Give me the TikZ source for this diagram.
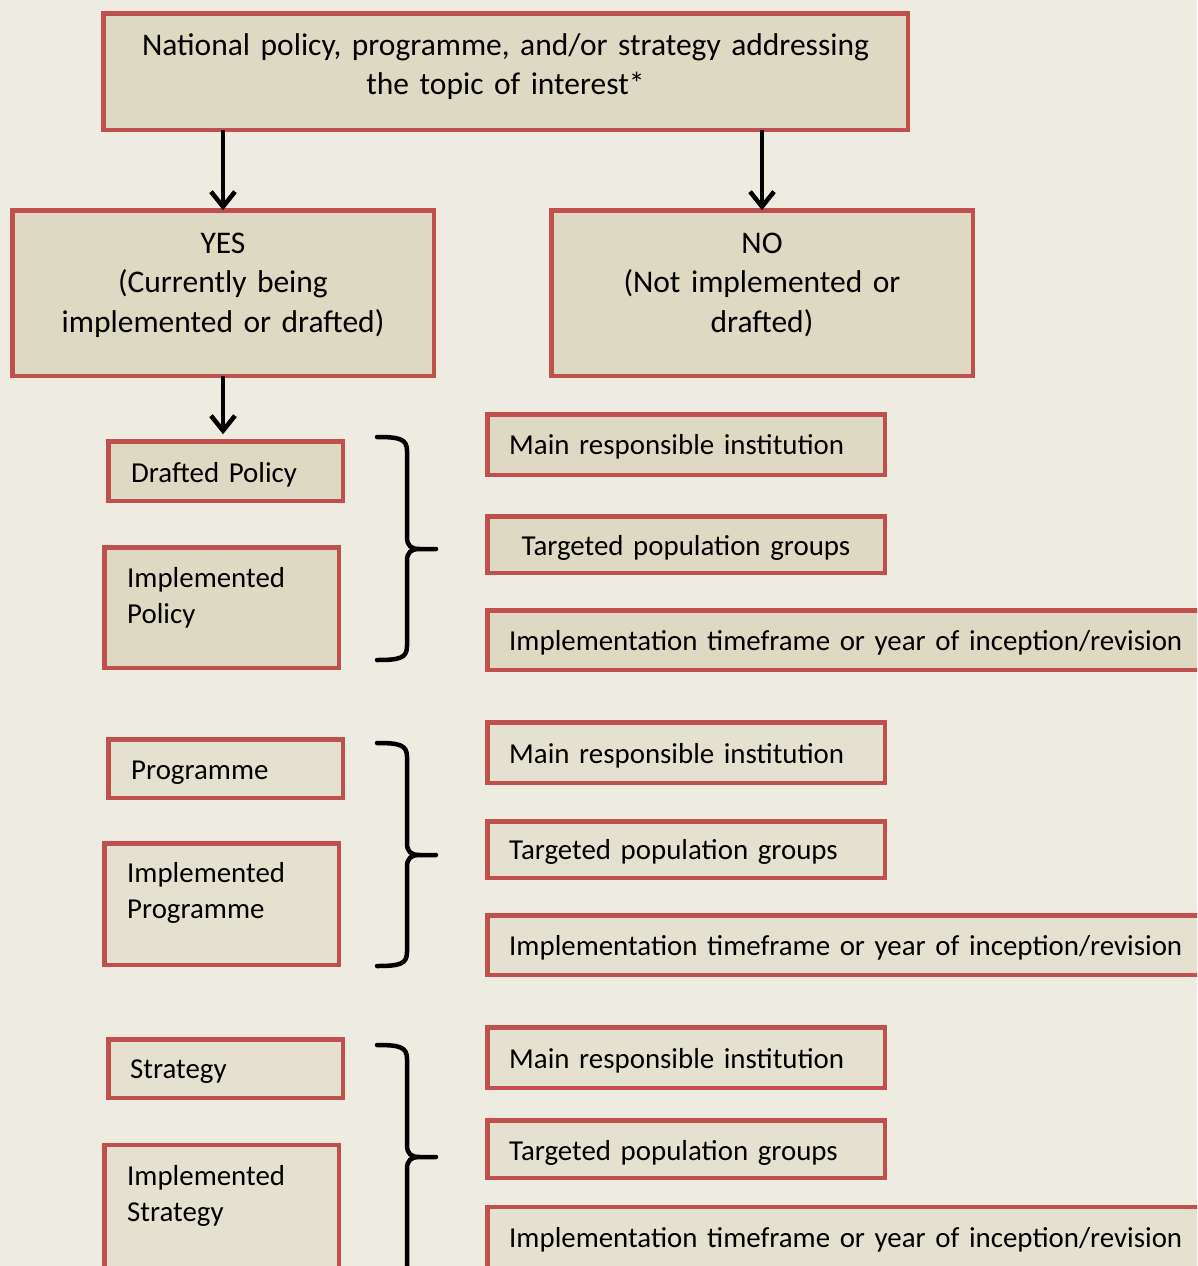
\documentclass[tikz,border=0pt]{standalone}
\usepackage{fontspec}
\setmainfont{Carlito}
\usetikzlibrary{arrows.meta}
\definecolor{bgc}{HTML}{EEECE1}
\definecolor{filla}{HTML}{DDD9C3}
\definecolor{fillb}{HTML}{E5E1D1}
\definecolor{edgered}{HTML}{C0504D}
\newcommand\setbrace[3]{%
  \draw[bracestyle] (377,#1) .. controls (400,#1) and (407,#1+2) .. (407,#1+14)
    -- (407,#2-12) .. controls (407,#2-3) and (411,#2) .. (420,#2) -- (436,#2)
    (420,#2) .. controls (411,#2) and (407,#2+3) .. (407,#2+12)
    -- (407,#3-14) .. controls (407,#3-2) and (400,#3) .. (377,#3);}
\begin{document}
\begin{tikzpicture}[x=1pt,y=-1pt,
  box/.style={draw=edgered, line width=4.5pt, fill=filla, inner sep=0pt, outer sep=0pt},
  boxb/.style={box, fill=fillb},
  bigtxt/.style={font=\fontsize{31.5}{39.5}\selectfont, inner sep=0pt, text width=#1, align=center, anchor=base},
  midtxt/.style={font=\fontsize{28.9}{36}\selectfont, inner sep=0pt, text width=#1, align=center, anchor=base},
  ltxt/.style={font=\fontsize{28.9}{36}\selectfont, inner sep=0pt, text width=#1, align=left, anchor=base west},
  arr/.style={line width=4.5pt, -{Straight Barb[length=15pt, width=24pt]}},
  bracestyle/.style={line width=4.5pt, line cap=round, line join=round}
]
\useasboundingbox (0,0) rectangle (1197,1266);
\fill[bgc] (0,0) rectangle (1197,1266);
\clip (0,0) rectangle (1197,1266);

% top level
\node[box, minimum width=804.5pt, minimum height=116.5pt] (top) at (505.5,71.5) {};
\node[bigtxt=790pt] (top-t) at (505.5,55) {National policy, programme, and/or strategy addressing\\the topic of interest*};
\node[box, minimum width=421.5pt, minimum height=165.5pt] (yes) at (223,293) {};
\node[bigtxt=400pt] (yes-t) at (223,253) {YES\\(Currently being\\implemented or drafted)};
\node[box, minimum width=421.5pt, minimum height=165.5pt] (no) at (762,293) {};
\node[bigtxt=400pt] (no-t) at (762,253) {NO\\(Not implemented or\\drafted)};

% set 1: policy
\node[box, minimum width=234.5pt, minimum height=59.5pt] (dp) at (225.5,471) {};
\node[ltxt=200pt] (dp-t) at (131,482) {Drafted Policy};
\node[box, minimum width=234.5pt, minimum height=120.5pt] (ip) at (221.5,607.5) {};
\node[ltxt=200pt] (ip-t) at (127,587) {Implemented\\Policy};
\node[box, minimum width=397.5pt, minimum height=60.5pt] (m1) at (686,444.5) {};
\node[ltxt=370pt] (m1-t) at (509,454) {Main responsible institution};
\node[box, minimum width=397.5pt, minimum height=56.5pt] (t1) at (686,544.5) {};
\node[midtxt=380pt] (t1-t) at (686,555) {Targeted population groups};
\node[box, minimum width=720.5pt, minimum height=59.5pt] (i1) at (847.5,640) {};
\node[ltxt=700pt] (i1-t) at (509,650) {Implementation timeframe or year of inception/revision};
\setbrace{437}{549}{660}

% set 2: programme
\node[boxb, minimum width=234.5pt, minimum height=58.5pt] (pg) at (225.5,768.5) {};
\node[ltxt=200pt] (pg-t) at (131,779) {Programme};
\node[boxb, minimum width=234.5pt, minimum height=121.5pt] (ipg) at (221.5,904) {};
\node[ltxt=200pt] (ipg-t) at (127,882) {Implemented\\Programme};
\node[boxb, minimum width=397.5pt, minimum height=60.5pt] (m2) at (686,752.5) {};
\node[ltxt=370pt] (m2-t) at (509,763) {Main responsible institution};
\node[boxb, minimum width=397.5pt, minimum height=56.5pt] (t2) at (686,849.5) {};
\node[ltxt=370pt] (t2-t) at (509,859) {Targeted population groups};
\node[boxb, minimum width=720.5pt, minimum height=59.5pt] (i2) at (847.5,945) {};
\node[ltxt=700pt] (i2-t) at (509,955) {Implementation timeframe or year of inception/revision};
\setbrace{743}{855}{966}

% set 3: strategy
\node[boxb, minimum width=234.5pt, minimum height=58.5pt] (st) at (225.5,1068.5) {};
\node[ltxt=200pt] (st-t) at (130,1078) {Strategy};
\node[boxb, minimum width=234.5pt, minimum height=130pt] (ist) at (221.5,1210) {};
\node[ltxt=200pt] (ist-t) at (127,1185) {Implemented\\Strategy};
\node[boxb, minimum width=397.5pt, minimum height=60.5pt] (m3) at (686,1057.5) {};
\node[ltxt=370pt] (m3-t) at (509,1068) {Main responsible institution};
\node[boxb, minimum width=397.5pt, minimum height=57.5pt] (t3) at (686,1149) {};
\node[ltxt=370pt] (t3-t) at (509,1160) {Targeted population groups};
\node[boxb, minimum width=720.5pt, minimum height=70pt] (i3) at (847.5,1242) {};
\node[ltxt=700pt] (i3-t) at (509,1247) {Implementation timeframe or year of inception/revision};
\setbrace{1045}{1157}{1280}

% connectors
\draw[arr] (top.south -| yes.north) -- (yes.north);
\draw[arr] (top.south -| no.north) -- (no.north);
\draw[arr, shorten >=7pt] (yes.south) -- (yes.south |- dp.north);
\end{tikzpicture}
\end{document}
